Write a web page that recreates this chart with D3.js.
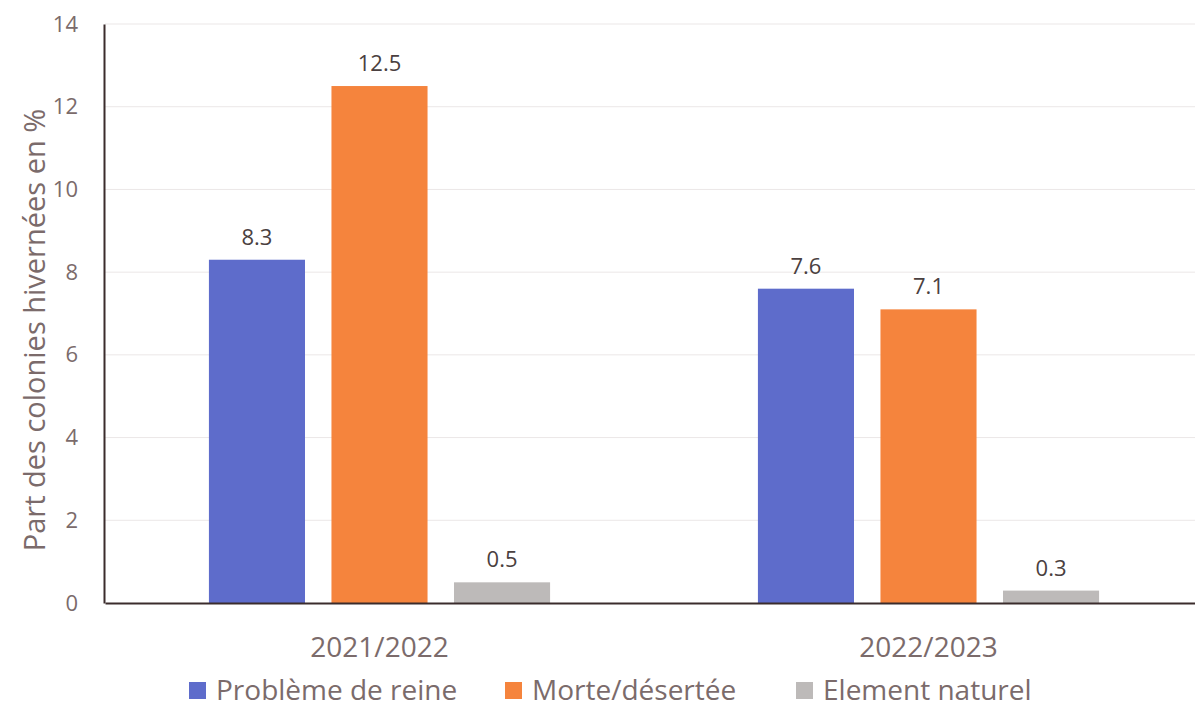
<!DOCTYPE html>
<html><head><meta charset="utf-8">
<script src="https://cdn.jsdelivr.net/npm/d3@7"></script>
<style>body{margin:0;background:#fff;}svg{display:block;font-family:"Open Sans",sans-serif;}</style>
</head><body><svg id="c" width="1195" height="720"></svg>
<script>
const categories = ["2021/2022", "2022/2023"];
const seriesNames = ["Problème de reine", "Morte/désertée", "Element naturel"];
const probleme = [8.3, 7.6];
const morte = [12.5, 7.1];
const element = [0.5, 0.3];
const yTicks = [0, 2, 4, 6, 8, 10, 12, 14];
const colors = ["#5e6ccb", "#f5843d", "#bdbab9"];
const series = [probleme, morte, element];

const svg = d3.select("#c");
const textCol = "#7b6b6b";
const x0 = d3.scaleBand().domain(categories).range([105, 1203]).paddingInner(0).paddingOuter(0);
const x1 = d3.scaleBand().domain(seriesNames).range([0, x0.bandwidth()]).paddingInner(0.216).paddingOuter(0.848);
const y = d3.scaleLinear().domain([0, 14]).range([603, 24]);

// gridlines
svg.append("g").selectAll("line").data(yTicks.filter(d=>d>0)).join("line")
  .attr("x1", 105).attr("x2", 1195).attr("y1", d=>y(d)).attr("y2", d=>y(d))
  .attr("stroke", "#ebe7e7").attr("stroke-width", 1);

// y axis
const ya = svg.append("g").attr("transform", "translate(104,0)")
  .call(d3.axisLeft(y).tickValues(yTicks).tickSize(0).tickPadding(26));
ya.select(".domain").attr("stroke", "#3b2c2c").attr("stroke-width", 2);
ya.selectAll("text").attr("fill", textCol).attr("font-size", 22).attr("font-family", "Open Sans");

// bars
const groups = svg.append("g").selectAll("g").data(categories).join("g")
  .attr("transform", d => `translate(${x0(d)},0)`);
groups.selectAll("rect").data((d, i) => series.map((s, j) => ({name: seriesNames[j], v: s[i], j})))
  .join("rect")
  .attr("x", d => x1(d.name)).attr("width", x1.bandwidth())
  .attr("y", d => y(d.v)).attr("height", d => y(0) - y(d.v))
  .attr("fill", d => colors[d.j]);
groups.selectAll("text").data((d, i) => series.map((s, j) => ({name: seriesNames[j], v: s[i], j})))
  .join("text")
  .attr("x", d => x1(d.name) + x1.bandwidth()/2).attr("y", d => y(d.v) - 15)
  .attr("text-anchor", "middle").attr("fill", "#4a4040").attr("font-size", 22)
  .text(d => d.v);

// x axis
const xa = svg.append("g").attr("transform", "translate(0,603)")
  .call(d3.axisBottom(x0).tickSize(0).tickPadding(0));
xa.select(".domain").attr("stroke", "#3b2c2c").attr("stroke-width", 2);
xa.selectAll("text").attr("fill", textCol).attr("font-size", 28).attr("font-family", "Open Sans")
  .attr("dy", null).attr("y", 54);

// y label
svg.append("text").attr("transform", "translate(45,330) rotate(-90)")
  .attr("text-anchor", "middle").attr("fill", textCol).attr("font-size", 29)
  .text("Part des colonies hivernées en %");

// legend
const legX = [189, 505, 796];
const leg = svg.append("g").selectAll("g").data(seriesNames).join("g")
  .attr("transform", (d, i) => `translate(${legX[i]},690)`);
leg.append("rect").attr("x", 0).attr("y", -8).attr("width", 17).attr("height", 17)
  .attr("fill", (d, i) => colors[i]);
leg.append("text").attr("x", 27).attr("y", 10).attr("fill", textCol).attr("font-size", 28)
  .text(d => d);
</script></body></html>
